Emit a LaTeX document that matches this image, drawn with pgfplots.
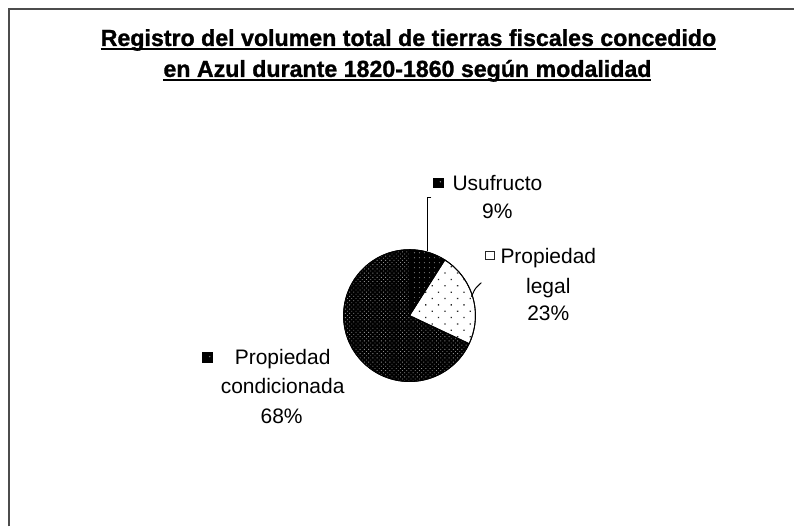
\documentclass[border=0pt]{standalone}
\usepackage{pgfplots}
\pgfplotsset{compat=1.18}
\usepackage{pgfplotstable}
\usetikzlibrary{patterns.meta}
\usepackage{fontspec}
\setmainfont{Liberation Sans}
\newfontfamily\titlefont{Liberation Sans}[UprightFont=*, BoldFont=* Bold, BoldFeatures={FakeBold=1.2}]

\pgfplotstableread{
name value
Usufructo 9
Legal 23
Condicionada 68
}\piedata
\pgfplotstablegetelem{0}{value}\of\piedata\edef\vA{\pgfplotsretval}
\pgfplotstablegetelem{1}{value}\of\piedata\edef\vB{\pgfplotsretval}
\pgfplotstablegetelem{2}{value}\of\piedata\edef\vC{\pgfplotsretval}
\pgfmathsetmacro\aA{90}
\pgfmathsetmacro\aB{\aA-3.6*\vA}
\pgfmathsetmacro\aC{\aB-3.6*\vB}
\pgfmathsetmacro\aD{\aC-3.6*\vC}
\def\cx{410}\def\cy{316}\def\rr{66}

\newcommand\ul[1]{\setbox0\hbox{#1}\rlap{\rule[-4.5bp]{\wd0}{2bp}}\box0}

\begin{document}
\begin{tikzpicture}
\begin{axis}[
  width=795bp, height=527bp, scale only axis,
  xmin=0, xmax=795, ymin=0, ymax=527, y dir=reverse,
  hide axis, clip=false,
]
\addplot[draw=none, forget plot] coordinates {(0,0) (795,527)};
% chart area frame (left and top visible)
\addplot[draw=black!70, line width=2bp] coordinates {(9,527) (9,9.5) (795,9.5)};

% Propiedad condicionada
\addplot[draw=black, line width=0.9bp, fill=black,
  postaction={pattern={Dots[distance=3bp,radius=0.6bp,angle=45]}, pattern color=black!45},
  domain=\aD:\aC, samples=150] ({\cx+\rr*cos(x)},{\cy-\rr*sin(x)}) -- (\cx,\cy) -- cycle;
% Usufructo
\addplot[draw=black, line width=0.9bp, fill=black,
  postaction={pattern={Dots[distance=5bp,radius=0.6bp]}, pattern color=black!50},
  domain=\aB:\aA, samples=30] ({\cx+\rr*cos(x)},{\cy-\rr*sin(x)}) -- (\cx,\cy) -- cycle;
% Propiedad legal
\addplot[draw=black, line width=0.9bp, fill=white,
  postaction={pattern={Dots[distance=9bp,radius=0.9bp,angle=45]}, pattern color=black!85},
  domain=\aC:\aB, samples=60] ({\cx+\rr*cos(x)},{\cy-\rr*sin(x)}) -- (\cx,\cy) -- cycle;

% leader lines
\addplot[black, line width=1bp] coordinates {(432,198) (428,198) (428,251)};
\addplot[black, line width=1bp, smooth] coordinates {(472,297) (476,289) (482,283)};

% title
\node[anchor=base, font=\fontsize{23.2bp}{28bp}\titlefont\bfseries] at (409,46) {\ul{Registro del volumen total de tierras fiscales concedido}};
\node[anchor=base, font=\fontsize{23.2bp}{28bp}\titlefont\bfseries] at (408,77) {\ul{en Azul durante 1820-1860 según modalidad}};

% labels
\begin{scope}[every node/.style={anchor=base, font=\fontsize{21bp}{28bp}\selectfont, inner sep=0pt}]
\node at (498,191) {Usufructo};
\node at (498,219) {9\%};
\node at (549,264) {Propiedad};
\node at (549,294) {legal};
\node at (549,321) {23\%};
\node at (283,365) {Propiedad};
\node at (283,394) {condicionada};
\node at (282,424) {68\%};
\end{scope}
% legend keys
\node[fill=black, inner sep=0pt, minimum width=11bp, minimum height=10bp] at (439,183) {};
\node[fill=white!60!black, inner sep=0pt, minimum size=1.5bp, circle] at (441,182) {};
\node[draw=black!85, line width=1.2bp, fill=white, inner sep=0pt, minimum width=9bp, minimum height=8bp] at (491,256) {};
\node[fill=black, inner sep=0pt, minimum size=11bp] at (208,358) {};
\node[fill=white!50!black, inner sep=0pt, minimum size=1.5bp, circle] at (210,357) {};
\end{axis}
\end{tikzpicture}
\end{document}
